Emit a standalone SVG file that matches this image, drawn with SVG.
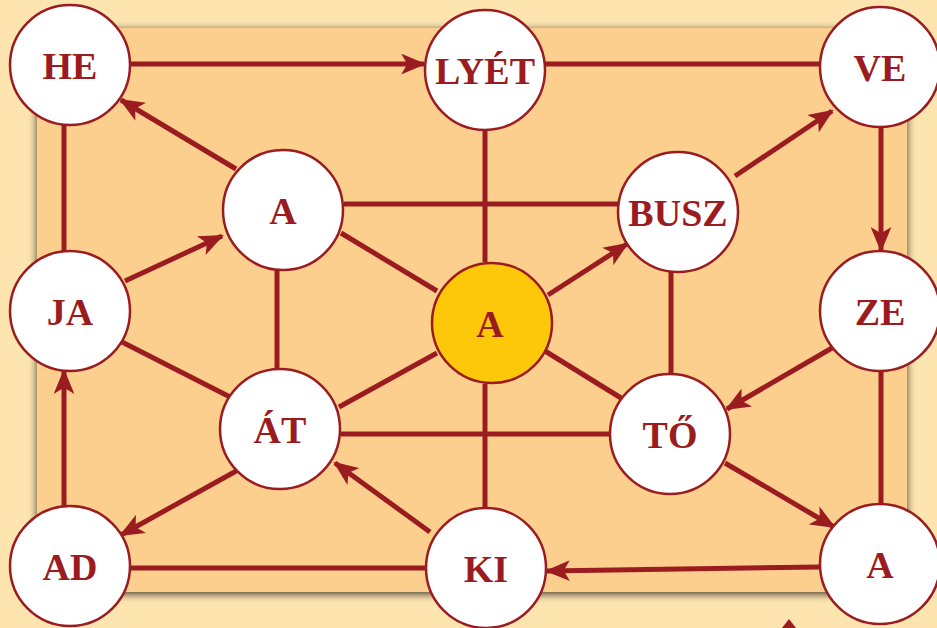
<svg xmlns="http://www.w3.org/2000/svg" width="937" height="628" viewBox="0 0 937 628">
<defs>
<filter id="sh" x="-5%" y="-5%" width="110%" height="110%">
<feGaussianBlur in="SourceAlpha" stdDeviation="4"/>
<feOffset dx="0" dy="2"/>
<feComponentTransfer><feFuncA type="linear" slope="0.75"/></feComponentTransfer>
<feMerge><feMergeNode/><feMergeNode in="SourceGraphic"/></feMerge>
</filter>
<marker id="ah" viewBox="0 0 12 10" refX="11" refY="5" markerWidth="5" markerHeight="4.2" orient="auto" markerUnits="strokeWidth">
<path d="M0,0 L12,5 L0,10 L3,5 z" fill="#9b1c20"/>
</marker>
<style>
.e{stroke:#9b1c20;stroke-width:5;fill:none}
.a{marker-end:url(#ah)}
.n circle{fill:#fff;stroke:#9b1c20;stroke-width:2.5}
.n text{font-family:"Liberation Serif","DejaVu Serif",serif;font-weight:bold;font-size:38px;fill:#9b1c20;text-anchor:middle}
</style>
</defs>
<rect width="937" height="628" fill="#fee5b0"/>
<rect x="37" y="28" width="870" height="564" fill="#fdcf8e" filter="url(#sh)"/>
<polygon points="782,628 789,619 796,628" fill="#9b1c20"/>
<g id="connectors">
<line class="e a" x1="130" y1="64" x2="424" y2="64"/>
<line class="e" x1="545" y1="64" x2="820" y2="64"/>
<line class="e" x1="64" y1="125" x2="64" y2="251"/>
<line class="e a" x1="64" y1="506" x2="64" y2="371"/>
<line class="e a" x1="881" y1="127" x2="881" y2="250"/>
<line class="e" x1="881" y1="371" x2="881" y2="504"/>
<line class="e a" x1="820" y1="567" x2="547" y2="571"/>
<line class="e" x1="131" y1="568" x2="425" y2="568"/>
<line class="e" x1="485" y1="130" x2="485" y2="262"/>
<line class="e" x1="485" y1="384" x2="485" y2="507"/>
<line class="e" x1="344" y1="204" x2="618" y2="204"/>
<line class="e" x1="341" y1="233" x2="437" y2="291"/>
<line class="e a" x1="236" y1="169" x2="121" y2="100"/>
<line class="e a" x1="125" y1="281" x2="222" y2="236"/>
<line class="e" x1="122" y1="342" x2="232" y2="398"/>
<line class="e" x1="277" y1="271" x2="277" y2="369"/>
<line class="e" x1="339" y1="407" x2="437" y2="353"/>
<line class="e" x1="341" y1="434" x2="610" y2="434"/>
<line class="e a" x1="238" y1="470" x2="121" y2="535"/>
<line class="e a" x1="430" y1="532" x2="335" y2="463"/>
<line class="e a" x1="548" y1="295" x2="627" y2="244"/>
<line class="e a" x1="735" y1="176" x2="832" y2="111"/>
<line class="e" x1="671" y1="272" x2="671" y2="374"/>
<line class="e" x1="545" y1="351" x2="621" y2="398"/>
<line class="e a" x1="832" y1="348" x2="727" y2="409"/>
<line class="e a" x1="725" y1="463" x2="834" y2="527"/>
</g>
<g id="n-he" class="n"><circle cx="70" cy="65" r="60"/><text x="70" y="79">HE</text></g>
<g id="n-lyet" class="n"><circle cx="485" cy="70" r="60"/><text x="485" y="84">LYÉT</text></g>
<g id="n-ve" class="n"><circle cx="880" cy="67" r="60"/><text x="880" y="81">VE</text></g>
<g id="n-a1" class="n"><circle cx="283" cy="210" r="60"/><text x="283" y="224">A</text></g>
<g id="n-busz" class="n"><circle cx="678" cy="212" r="60"/><text x="678" y="226">BUSZ</text></g>
<g id="n-ja" class="n"><circle cx="70" cy="311" r="60"/><text x="70" y="325">JA</text></g>
<g id="n-center" class="n"><circle cx="492" cy="323" r="60" style="fill:#fdc70a"/><text x="490" y="337">A</text></g>
<g id="n-ze" class="n"><circle cx="880" cy="311" r="60"/><text x="880" y="325">ZE</text></g>
<g id="n-at" class="n"><circle cx="280" cy="429" r="60"/><text x="280" y="443">ÁT</text></g>
<g id="n-to" class="n"><circle cx="670" cy="434" r="60"/><text x="670" y="448">TŐ</text></g>
<g id="n-ad" class="n"><circle cx="70" cy="566" r="60"/><text x="70" y="580">AD</text></g>
<g id="n-ki" class="n"><circle cx="486" cy="568" r="60"/><text x="486" y="582">KI</text></g>
<g id="n-a2" class="n"><circle cx="880" cy="564" r="60"/><text x="880" y="578">A</text></g>
</svg>
